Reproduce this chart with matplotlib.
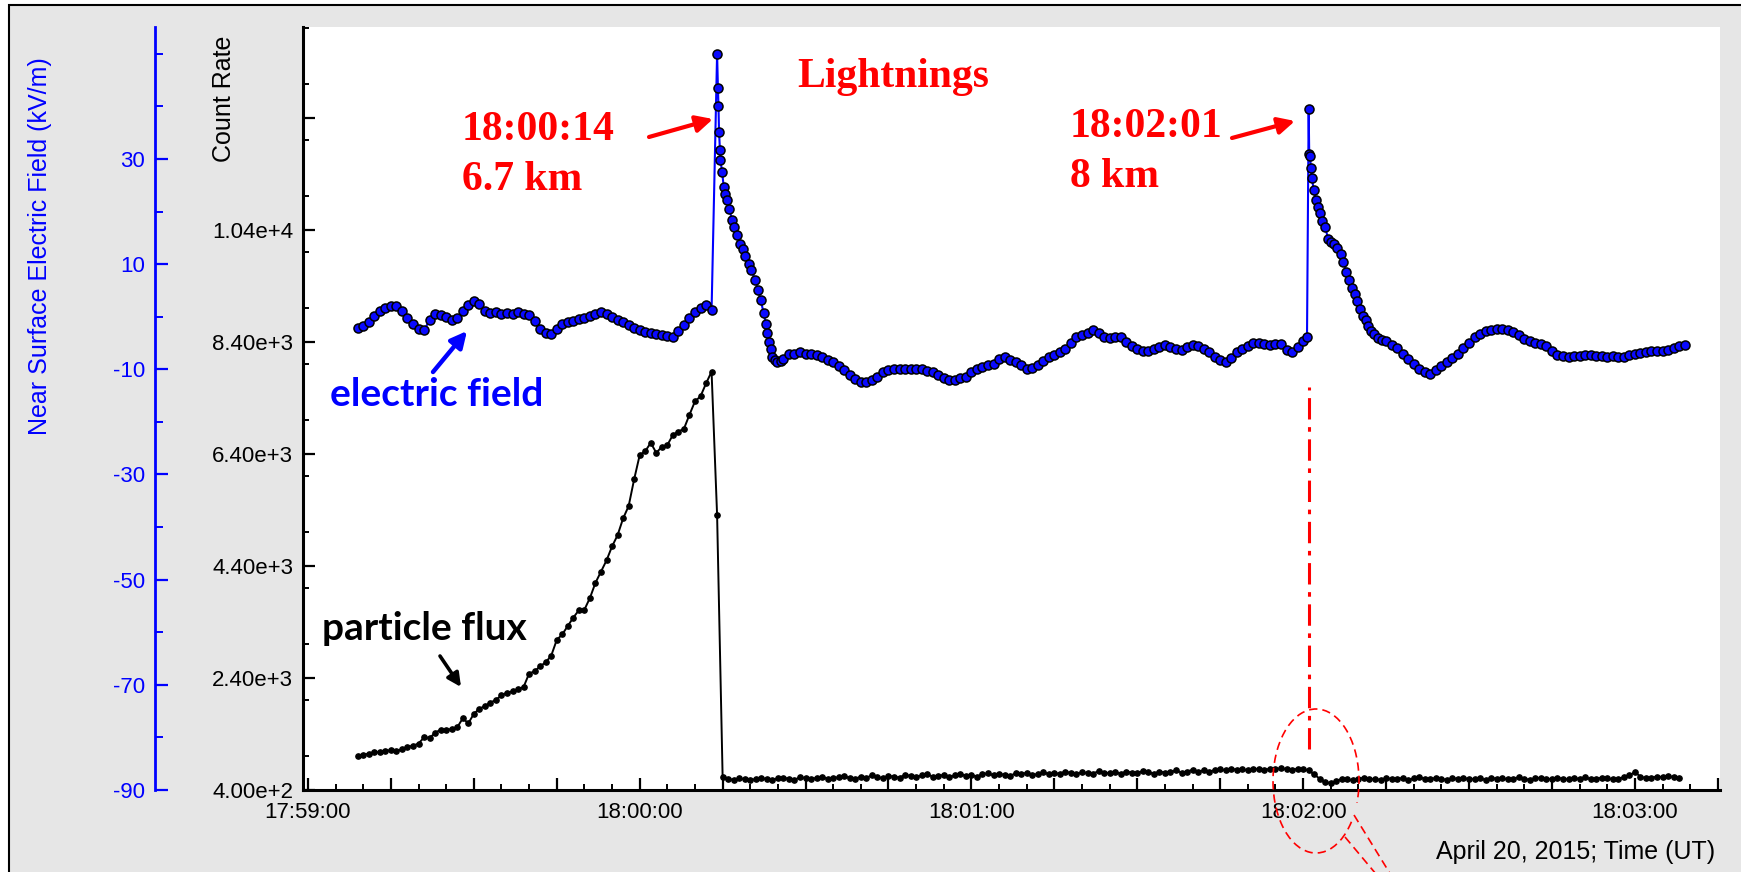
import numpy as np
import matplotlib.pyplot as plt
from matplotlib.patches import Rectangle, Arc
from matplotlib.ticker import FixedLocator, FixedFormatter, MultipleLocator, FuncFormatter

plt.rcParams['font.family'] = ['Liberation Sans', 'DejaVu Sans']
plt.rcParams['axes.unicode_minus'] = False

W, H = 1741, 872

# time axis: seconds after 17:59:00 UT
count_t = np.arange(9, 249)
count_rate = [
    1010, 1030, 1050, 1080, 1070, 1100, 1110, 1090, 1130, 1170,
    1190, 1230, 1340, 1330, 1420, 1480, 1470, 1490, 1520, 1680,
    1590, 1760, 1850, 1900, 1960, 2010, 2090, 2140, 2160, 2200,
    2240, 2480, 2520, 2610, 2680, 2800, 3080, 3180, 3330, 3480,
    3610, 3620, 3830, 4100, 4300, 4500, 4750, 4950, 5250, 5470,
    5950, 6380, 6450, 6600, 6420, 6530, 6560, 6740, 6800, 6850,
    7100, 7340, 7430, 7660, 7870, 5310, 630,
    600, 580, 610, 590, 570, 600, 620, 590, 580, 610,
    620, 600, 580, 630, 610, 590, 620, 640, 600, 610,
    630, 650, 610, 600, 640, 620, 660, 630, 610, 650,
    640, 620, 670, 650, 630, 660, 680, 640, 650, 670,
    630, 660, 690, 650, 670, 640, 680, 700, 660, 690,
    670, 650, 700, 680, 710, 660, 690, 720, 680, 700,
    690, 730, 700, 680, 720, 700, 690, 740, 710, 700,
    720, 690, 730, 710, 700, 740, 720, 690, 730, 710,
    720, 750, 710, 730, 760, 730, 750, 720, 760, 770,
    750, 780, 760, 770, 750, 780, 770, 760, 780, 770,
    790, 770, 760, 780, 770, 750, 680, 600, 540, 520,
    560, 600, 590, 570, 600, 620, 590, 600, 580, 610,
    600, 590, 620, 580, 610, 630, 600, 590, 620, 600,
    580, 610, 600, 620, 590, 600, 610, 580, 620, 600,
    610, 590, 600, 630, 600, 580, 610, 620, 590, 600,
    620, 600, 590, 610, 600, 630, 590, 600, 620, 610,
    590, 600, 630, 660, 720, 640, 610, 620, 640, 630,
    650, 630, 620,
]

# near surface electric field, kV/m
field_t_pre = np.arange(9, 74)
field_pre = [
    -2.2, -1.8, -1.0, 0.2, 1.0, 1.6, 2.1, 2.0, 1.0, -0.2,
    -1.4, -2.3, -2.6, -0.6, 0.6, 0.4, 0.0, -0.6, -0.2, 1.0,
    2.2, 3.0, 2.4, 1.0, 0.8, 0.9, 0.6, 0.8, 0.5, 0.9,
    0.6, 0.4, -0.8, -2.4, -3.1, -3.2, -2.3, -1.4, -1.0, -0.8,
    -0.5, -0.3, 0.2, 0.6, 0.9, 0.6, 0.0, -0.6, -1.0, -1.6,
    -2.2, -2.6, -2.9, -3.0, -3.2, -3.5, -3.7, -3.8, -2.8, -1.5,
    -0.2, 0.9, 1.6, 2.2, 1.2,
]
spike1_t = [74.0, 74.15, 74.25, 74.35, 74.5, 74.6, 74.9, 75.2, 75.4, 75.8,
            76.2, 76.7, 77.1, 77.6, 78.2, 78.6, 79.1, 79.7, 80.2, 80.9,
            81.4, 81.9, 82.4, 82.8, 83.1, 83.4, 83.7, 84.0, 84.5, 84.9, 85.5]
spike1_kv = [50.0, 43.5, 40.1, 35.2, 31.7, 29.8, 27.6, 24.7, 23.4, 22.2,
             20.5, 18.4, 17.0, 15.6, 13.9, 12.8, 11.5, 10.1, 8.8, 7.0,
             5.0, 3.1, 0.8, -1.3, -3.0, -4.8, -6.2, -7.6, -8.3, -8.6, -8.4]
field_t_mid = np.arange(86, 181)
field_mid = [
    -8.0, -7.0, -7.0, -6.8, -7.0, -7.1, -7.3, -7.7, -8.2, -8.6,
    -9.4, -10.2, -11.0, -11.9, -12.4, -12.4, -12.1, -11.5, -10.6, -10.1,
    -10.0, -9.9, -9.9, -10.0, -9.9, -10.0, -10.3, -10.5, -11.0, -11.6,
    -12.1, -12.0, -11.7, -11.5, -10.6, -9.9, -9.6, -9.2, -8.9, -8.0,
    -7.7, -8.3, -8.7, -9.1, -9.9, -9.8, -9.1, -8.4, -7.7, -7.2,
    -6.7, -6.1, -5.0, -3.9, -3.4, -3.0, -2.6, -3.0, -3.9, -4.1,
    -3.9, -3.8, -4.8, -5.6, -6.1, -6.6, -6.6, -6.2, -5.8, -5.4,
    -5.7, -6.2, -6.3, -5.8, -5.4, -5.6, -6.2, -6.8, -7.6, -8.2,
    -8.6, -7.8, -6.8, -6.2, -5.5, -4.9, -4.9, -5.2, -5.4, -5.2,
    -5.1, -6.4, -6.7, -5.7, -4.6,
]
spike2_t = [180.7, 181.0, 181.1, 181.25, 181.4, 181.6, 181.9, 182.3, 182.6, 183.0,
            183.5, 184.0, 184.5, 185.0, 185.6, 186.2, 186.8, 187.3, 187.8, 188.3,
            188.8, 189.3, 189.8, 190.3, 190.8, 191.3, 191.8, 192.3, 192.8, 193.5, 194.3]
spike2_kv = [-3.8, 39.5, 31.0, 30.6, 28.2, 26.3, 24.1, 22.2, 20.8, 19.7,
             18.3, 17.1, 14.8, 14.3, 13.9, 13.0, 12.0, 10.5, 8.6, 6.9,
             5.5, 4.4, 3.0, 1.5, 0.2, -0.7, -1.8, -2.8, -3.3, -4.0, -4.4]
field_t_post = np.arange(195, 250)
field_post = [
    -4.7, -5.3, -6.0, -7.0, -8.0, -9.0, -10.0, -10.6, -10.8, -10.2,
    -9.4, -8.6, -7.8, -7.0, -6.0, -4.9, -3.8, -3.2, -2.8, -2.5,
    -2.3, -2.3, -2.5, -2.9, -3.5, -4.2, -4.6, -4.9, -5.1, -5.6,
    -6.6, -7.3, -7.4, -7.6, -7.5, -7.4, -7.3, -7.3, -7.4, -7.5,
    -7.6, -7.5, -7.6, -7.6, -7.3, -7.0, -6.9, -6.7, -6.6, -6.6,
    -6.5, -6.4, -6.0, -5.6, -5.3,
]

count_ticks = [400, 2400, 4400, 6400, 8400, 10400, 12400]
count_tick_labels = ['4.00e+2', '2.40e+3', '4.40e+3', '6.40e+3', '8.40e+3', '1.04e+4', '']
field_ticks = [-90, -70, -50, -30, -10, 10, 30]

# second lightning (18:02:01) marker span on the count-rate scale
flash2_t = 181
flash2_span = [1130, 7600]

field_t = np.concatenate([field_t_pre, spike1_t, field_t_mid, spike2_t, field_t_post])
field_kv = np.concatenate([field_pre, spike1_kv, field_mid, spike2_kv, field_post])

fig = plt.figure(figsize=(W / 100, H / 100), dpi=100)
fig.patch.set_facecolor('white')
fig.add_artist(Rectangle((9 / W, -0.05), 1.1, 1.05 - 5 / H, transform=fig.transFigure,
                         facecolor='#e6e6e6', edgecolor='black', lw=1.5, zorder=-1))

ax = fig.add_axes([303 / W, 1 - 790 / H, (1720 - 303) / W, (790 - 27) / H])
ax.set_facecolor('white')
ax.plot(count_t, count_rate, color='black', lw=1.4, marker='o', ms=3.8, zorder=3)
ax.plot([flash2_t, flash2_t], flash2_span, color='red', lw=2.2,
        ls=(0, (7, 2.5, 1.5, 2.5)), zorder=2)

ax.set_xlim(-0.9, 255.4)
ax.set_ylim(400, 14025)
ax.yaxis.set_major_locator(FixedLocator(count_ticks))
ax.yaxis.set_major_formatter(FixedFormatter(count_tick_labels))
ax.yaxis.set_minor_locator(MultipleLocator(1000))
ax.xaxis.set_major_locator(MultipleLocator(15))
ax.xaxis.set_minor_locator(MultipleLocator(5))


def hms(v, pos):
    if abs(v % 60) > 0.01:
        return ''
    s = int(round(17 * 3600 + 59 * 60 + v))
    return '%02d:%02d:%02d' % (s // 3600, s // 60 % 60, s % 60)


ax.xaxis.set_major_formatter(FuncFormatter(hms))
for side in ['top', 'right']:
    ax.spines[side].set_visible(False)
for side in ['left', 'bottom']:
    ax.spines[side].set_linewidth(2.2)
ax.tick_params(which='major', direction='in', length=8.6, width=1.6, labelsize=16)
ax.tick_params(which='minor', direction='in', length=4.5, width=1.4)
ax.tick_params(axis='y', pad=7)
ax.tick_params(axis='x', pad=9)

ax2 = ax.twinx()
ax2.plot(field_t, field_kv, color='#0000ff', lw=1.5, marker='o', ms=6.5,
         mfc='#0a0aff', mec='black', mew=1.1, zorder=4)
ax2.set_ylim(-90, 55.1)
for side in ['top', 'right', 'bottom']:
    ax2.spines[side].set_visible(False)
ax2.spines['left'].set_visible(True)
ax2.spines['left'].set_position(('outward', 148 * 0.72))
ax2.spines['left'].set_color('#0000ff')
ax2.spines['left'].set_linewidth(2.0)
ax2.yaxis.set_ticks_position('left')
ax2.yaxis.set_major_locator(FixedLocator(field_ticks))
ax2.yaxis.set_minor_locator(MultipleLocator(10))
ax2.tick_params(axis='y', which='major', direction='in', length=9.4, width=1.6,
                color='#0000ff', labelcolor='#0000ff', labelsize=16, pad=7)
ax2.tick_params(axis='y', which='minor', direction='in', length=5.8, width=1.4,
                color='#0000ff')

# annotations in pixel coordinates
ov = fig.add_axes([0, 0, 1, 1], zorder=5)
ov.set_xlim(0, W)
ov.set_ylim(H, 0)
ov.axis('off')

ov.text(40, 246, 'Near Surface Electric Field (kV/m)', rotation=90, color='#0000ff',
        fontsize=18, ha='center', va='center')
ov.text(224, 99, 'Count Rate', rotation=90, color='black', fontsize=18,
        ha='center', va='center')
ov.text(1715, 852, 'April 20, 2015; Time (UT)', fontsize=18, ha='right', va='center')

red_font = dict(family='Liberation Serif', weight='bold', fontsize=30, color='red')
ov.text(797, 87, 'Lightnings', va='baseline', **red_font)
ov.text(462, 140, '18:00:14', va='baseline', **red_font)
ov.text(462, 190, '6.7 km', va='baseline', **red_font)
ov.text(1070, 137, '18:02:01', va='baseline', **red_font)
ov.text(1070, 187, '8 km', va='baseline', **red_font)

arrow_red = dict(arrowstyle='-|>', color='red', lw=3, mutation_scale=25,
                 shrinkA=0, shrinkB=0)
ov.annotate('', xy=(713, 119), xytext=(649, 137), arrowprops=arrow_red)
ov.annotate('', xy=(1295, 121), xytext=(1232, 138), arrowprops=arrow_red)

ov.text(330, 406, 'electric field', family='Lato', weight='bold', fontsize=28,
        color='#0000ff', va='baseline')
ov.annotate('', xy=(467, 331), xytext=(433, 372),
            arrowprops=dict(arrowstyle='-|>', color='#0000ff', lw=3.2,
                            mutation_scale=24, shrinkA=0, shrinkB=0))
ov.text(322, 640, 'particle flux', family='Lato', weight='bold', fontsize=28,
        color='black', va='baseline')
ov.annotate('', xy=(461, 687), xytext=(440, 656),
            arrowprops=dict(arrowstyle='-|>', color='black', lw=2.6,
                            mutation_scale=20, shrinkA=0, shrinkB=0))

# dashed callout around 18:02:00
ov.add_patch(Arc((1316, 781), 86, 144, theta1=49, theta2=388, color='red', lw=1.2,
                 ls=(0, (5, 3))))
ov.plot([1354, 1394], [815, 880], color='red', lw=1.2, ls=(0, (5, 3)))
ov.plot([1345, 1381], [837, 880], color='red', lw=1.2, ls=(0, (5, 3)))

fig.savefig('out.png', dpi=100, facecolor=fig.get_facecolor())
